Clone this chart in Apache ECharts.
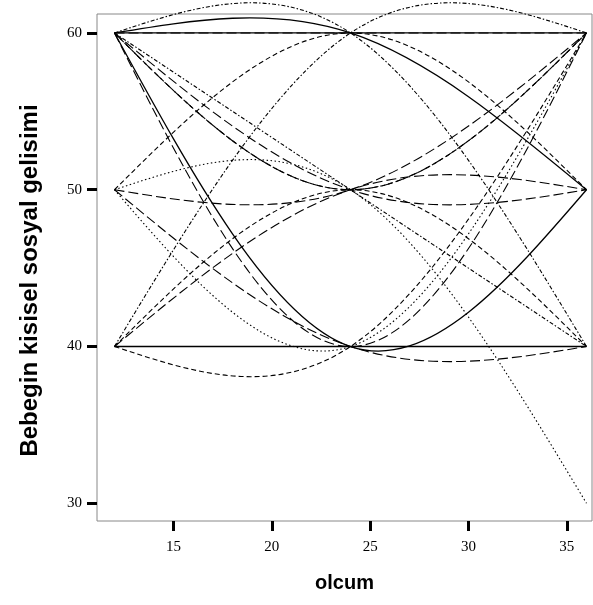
<!DOCTYPE html>
<html>
<head>
<meta charset="utf-8">
<script src="https://cdn.jsdelivr.net/npm/echarts@6/dist/echarts.min.js"></script>
<style>
  html, body { margin: 0; padding: 0; background: #fff; }
  #chart { width: 593px; height: 605px; }
</style>
</head>
<body>
<div id="chart"></div>
<script>
// measurement times (olcum)
const measureTimes = [12, 24, 36];

// one row per baby: score at each measurement time
const subjectScores = [
    [60, 60, 60],
    [60, 60, 60],
    [60, 60, 50],
    [60, 60, 40],
    [60, 50, 40],
    [60, 50, 50],
    [60, 50, 60],
    [60, 50, 60],
    [60, 40, 50],
    [60, 40, 60],
    [50, 60, 50],
    [50, 50, 30],
    [50, 50, 60],
    [50, 40, 40],
    [50, 40, 60],
    [40, 40, 40],
    [40, 40, 60],
    [40, 50, 50],
    [40, 50, 40],
    [40, 60, 60]
];

const xTickValues = [15, 20, 25, 30, 35];
const yTickValues = [30, 40, 50, 60];

// line pattern of each subject (same order as subjectScores)
const subjectPattern = [
    'solid', 'longdash', 'solid', 'dashdot', 'dashdot', 'longdash', 'longdash', 'dash',
    'solid', 'longdash', 'dash', 'dot', 'longdash', 'longdash', 'dot',
    'solid', 'dash', 'longdash', 'dash', 'dashdot'
];

const dashTypes = {
    solid: null,
    dot: [1.5, 2.5],
    dash: [5, 3],
    longdash: [10, 4],
    dashdot: [4, 2, 1.5, 2]
};

// natural cubic spline through pixel points, returned as svg path (bezier segments)
function splinePath(pts) {
    let n = pts.length;
    if (n < 3) {
        return 'M' + pts.map(function (p) { return p[0] + ' ' + p[1]; }).join('L');
    }
    let h = [], M = new Array(n).fill(0);
    for (let i = 0; i < n - 1; i++) h.push(pts[i + 1][0] - pts[i][0]);
    // tridiagonal system for inner second derivatives
    let a = [], b = [], c = [], d = [];
    for (let i = 1; i < n - 1; i++) {
        a.push(h[i - 1]);
        b.push(2 * (h[i - 1] + h[i]));
        c.push(h[i]);
        d.push(6 * ((pts[i + 1][1] - pts[i][1]) / h[i] - (pts[i][1] - pts[i - 1][1]) / h[i - 1]));
    }
    let m = b.length;
    for (let i = 1; i < m; i++) {
        let w = a[i] / b[i - 1];
        b[i] -= w * c[i - 1];
        d[i] -= w * d[i - 1];
    }
    let sol = new Array(m);
    sol[m - 1] = d[m - 1] / b[m - 1];
    for (let i = m - 2; i >= 0; i--) sol[i] = (d[i] - c[i] * sol[i + 1]) / b[i];
    for (let i = 0; i < m; i++) M[i + 1] = sol[i];

    let path = 'M' + pts[0][0] + ' ' + pts[0][1];
    for (let i = 0; i < n - 1; i++) {
        let x0 = pts[i][0], y0 = pts[i][1], x1 = pts[i + 1][0], y1 = pts[i + 1][1];
        let hi = h[i];
        let s = (y1 - y0) / hi;
        let d0 = s - hi * (2 * M[i] + M[i + 1]) / 6;
        let d1 = s + hi * (M[i] + 2 * M[i + 1]) / 6;
        path += 'C' + (x0 + hi / 3) + ' ' + (y0 + d0 * hi / 3) + ' '
            + (x1 - hi / 3) + ' ' + (y1 - d1 * hi / 3) + ' '
            + x1 + ' ' + y1;
    }
    return path;
}

let chart = echarts.init(document.getElementById('chart'));

let series = subjectScores.map(function (scores, i) {
    let pattern = subjectPattern[i];
    return {
        type: 'custom',
        coordinateSystem: 'cartesian2d',
        silent: true,
        clip: false,
        data: measureTimes.map(function (t, j) { return [t, scores[j]]; }),
        encode: { x: 0, y: 1 },
        renderItem: function (params, api) {
            if (params.dataIndexInside !== 0) return;
            let pts = [];
            for (let k = 0; k < params.dataInsideLength; k++) {
                pts.push(api.coord([api.value(0, k), api.value(1, k)]));
            }
            return {
                type: 'path',
                shape: { pathData: splinePath(pts) },
                style: {
                    fill: 'none',
                    stroke: '#000',
                    lineWidth: pattern === 'solid' ? 1.3 : 1.1,
                    lineDash: dashTypes[pattern]
                }
            };
        }
    };
});

let tickLabelFont = {
    fontFamily: 'Liberation Serif',
    fontSize: 15,
    color: '#000'
};

let option = {
    backgroundColor: '#fff',
    animation: false,
    grid: {
        left: 97,
        right: 1,
        top: 14,
        bottom: 84,
        show: true,
        borderColor: '#888',
        borderWidth: 1
    },
    xAxis: {
        type: 'value',
        min: 11.11,
        max: 36.28,
        name: 'olcum',
        nameLocation: 'middle',
        nameGap: 52,
        nameTextStyle: {
            fontFamily: 'Liberation Sans',
            fontWeight: 'bold',
            fontSize: 20,
            color: '#000'
        },
        splitLine: { show: false },
        axisLine: { show: false },
        axisTick: {
            show: true,
            length: 10,
            customValues: xTickValues,
            lineStyle: { color: '#000', width: 3 }
        },
        axisLabel: Object.assign({ margin: 19, customValues: xTickValues }, tickLabelFont)
    },
    yAxis: {
        type: 'value',
        min: 28.87,
        max: 61.21,
        name: 'Bebegin kisisel sosyal gelisimi',
        nameLocation: 'middle',
        nameGap: 55,
        nameTextStyle: {
            fontFamily: 'Liberation Sans',
            fontWeight: 'bold',
            fontSize: 24,
            color: '#000',
            padding: [0, 26, 0, 0]
        },
        splitLine: { show: false },
        axisLine: { show: false },
        axisTick: {
            show: true,
            length: 10,
            customValues: yTickValues,
            lineStyle: { color: '#000', width: 3 }
        },
        axisLabel: Object.assign({ margin: 15, customValues: yTickValues }, tickLabelFont)
    },
    series: series
};

chart.setOption(option);
</script>
</body>
</html>
